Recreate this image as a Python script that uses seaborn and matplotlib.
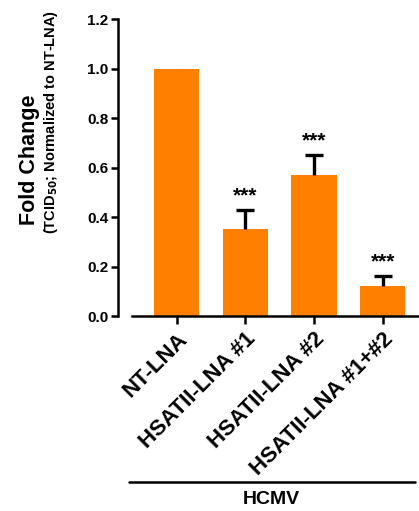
import matplotlib
matplotlib.use("Agg")
import matplotlib.pyplot as plt
import seaborn as sns
import pandas as pd
import numpy as np
from matplotlib.lines import Line2D

categories = ["NT-LNA", "HSATII-LNA #1", "HSATII-LNA #2", "HSATII-LNA #1+#2"]
values = [1.0, 0.35, 0.57, 0.12]
errors = [0.0, 0.08, 0.08, 0.04]
stars = ["", "***", "***", "***"]
yticks = [0.0, 0.2, 0.4, 0.6, 0.8, 1.0, 1.2]
group_label = "HCMV"

sns.set_theme(style="ticks")
plt.rcParams['font.family'] = ['Liberation Sans', 'DejaVu Sans']
plt.rcParams['font.weight'] = 'bold'
plt.rcParams['mathtext.default'] = 'bf'
plt.rcParams['text.color'] = 'black'
plt.rcParams['xtick.color'] = 'black'
plt.rcParams['ytick.color'] = 'black'
plt.rcParams['axes.labelcolor'] = 'black'

W, H = 419, 511
fig = plt.figure(figsize=(W / 100, H / 100), dpi=100)
ax = fig.add_axes([132 / W, 1 - 316 / H, (419 - 132) / W, (316 - 19) / H])

df = pd.DataFrame({"cat": categories, "val": values})
color = "#FF8000"
sns.barplot(data=df, x="cat", y="val", color=color, saturation=1, width=0.66,
            edgecolor="none", ax=ax, errorbar=None)

x = np.arange(len(categories))
err = np.array(errors)
mask = err > 0
_, caps, _ = ax.errorbar(x[mask], np.array(values)[mask],
                         yerr=[np.zeros(mask.sum()), err[mask]],
                         fmt="none", ecolor="black", elinewidth=2.4, capsize=6.5,
                         capthick=2.4)
if len(caps) == 2:
    caps[0].set_visible(False)
for xi, v, e, s in zip(x, values, errors, stars):
    if s:
        ax.text(xi, v + e + 0.035, s, ha="center", va="baseline", fontsize=15,
                fontweight="bold")

ax.set_ylim(0, 1.2)
ax.set_xlim((132 - 176.5) / 68.7, (419 - 176.5) / 68.7)
ax.set_yticks(yticks)
ax.set_yticklabels([f"{t:.1f}" for t in yticks], fontsize=15, fontweight="bold")
ax.set_xticks(x)
ax.set_xticklabels(categories, rotation=45, ha="right", rotation_mode="anchor",
                   fontsize=16, fontweight="bold")
ax.set_xlabel("")
ax.set_ylabel("")

for side in ["top", "right"]:
    ax.spines[side].set_visible(False)
for side in ["left", "bottom"]:
    ax.spines[side].set_linewidth(1.8)
    ax.spines[side].set_color("black")
ax.spines["left"].set_position(("outward", 10))
ax.tick_params(axis="both", width=1.8, length=5, color="black", direction="out", pad=2)
ax.tick_params(axis="x", length=6, pad=3)

fig.text(30 / W, 1 - 160 / H, "Fold Change", rotation=90, ha="center", va="center",
         fontsize=15.5, fontweight="bold")
fig.text(51 / W, 1 - 122 / H, r"(TCID$_{50}$; Normalized to NT-LNA)", rotation=90,
         ha="center", va="center", fontsize=10.5, fontweight="bold")

fig.add_artist(Line2D([129 / W, 415 / W], [1 - 482 / H, 1 - 482 / H], color="black",
                      linewidth=1.8, transform=fig.transFigure))
fig.text(271 / W, 1 - 499 / H, group_label, ha="center", va="center", fontsize=14,
         fontweight="bold")

fig.savefig("out.png", dpi=100)
